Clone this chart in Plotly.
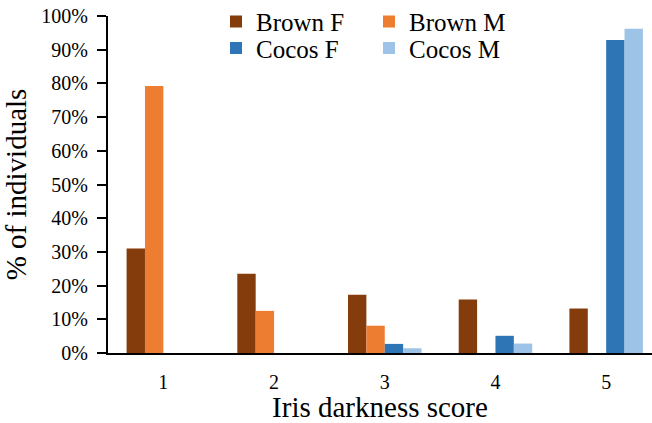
import plotly.graph_objects as go

scores = ["1", "2", "3", "4", "5"]
brown_f = [31.0, 23.5, 17.3, 15.9, 13.2]
brown_m = [79.2, 12.5, 8.1, 0.0, 0.0]
cocos_f = [0.0, 0.0, 2.7, 5.1, 92.9]
cocos_m = [0.0, 0.0, 1.4, 2.8, 96.2]
y_ticks = [0, 10, 20, 30, 40, 50, 60, 70, 80, 90, 100]

FONT = "Liberation Serif"
x_num = [1, 2, 3, 4, 5]

fig = go.Figure()
series = [
    ("Brown F", brown_f, "#843C0C", "legend"),
    ("Brown M", brown_m, "#ED7D31", "legend"),
    ("Cocos F", cocos_f, "#2E75B6", "legend2"),
    ("Cocos M", cocos_m, "#9DC3E6", "legend2"),
]
for name, vals, col, lg in series:
    fig.add_trace(go.Bar(x=x_num, y=vals, name=name, marker_color=col,
                         marker_line_width=0, legend=lg))

PLOT_L, PLOT_W, PLOT_T, PLOT_H = 108, 544, 16, 337.5


def px_x(px):
    return (px - PLOT_L) / PLOT_W


def px_y(py):
    return 1 - (py - PLOT_T) / PLOT_H


legend_common = dict(orientation="h", font=dict(family=FONT, size=25, color="black"),
                     entrywidth=108, entrywidthmode="pixels", itemwidth=30,
                     bgcolor="rgba(0,0,0,0)", xref="paper", yref="paper",
                     xanchor="left", yanchor="middle", tracegroupgap=0)

fig.update_layout(
    width=652, height=423,
    margin=dict(l=108, r=0, t=16, b=69.5, autoexpand=False),
    paper_bgcolor="white", plot_bgcolor="white",
    barmode="group", bargap=0.336, bargroupgap=0,
    font=dict(family=FONT, color="black"),
    legend=dict(**legend_common, x=px_x(216), y=px_y(21.7)),
    legend2=dict(**legend_common, x=px_x(216), y=px_y(48.3)),
    xaxis=dict(
        range=[0.5, 5.414], tickvals=x_num, ticktext=scores,
        showline=True, linecolor="black", linewidth=2,
        ticks="", showgrid=False, zeroline=False,
        tickfont=dict(family=FONT, size=20, color="black"),
        ticklabelstandoff=10,
        title=dict(text="Iris darkness score", font=dict(family=FONT, size=29, color="black"),
                   standoff=13),
        automargin=False,
    ),
    yaxis=dict(
        range=[0, 100], tickvals=y_ticks, ticktext=[f"{v}%" for v in y_ticks],
        showline=True, linecolor="black", linewidth=2,
        ticks="outside", ticklen=9, tickwidth=2, tickcolor="black",
        showgrid=False, zeroline=False,
        tickfont=dict(family=FONT, size=20, color="black"),
        ticklabelstandoff=5,
        title=dict(text="% of individuals", font=dict(family=FONT, size=29, color="black"),
                   standoff=6),
        automargin=False,
    ),
)

fig.write_html("out.html", config={"displayModeBar": False},
               post_script="document.body.style.margin='0';")
